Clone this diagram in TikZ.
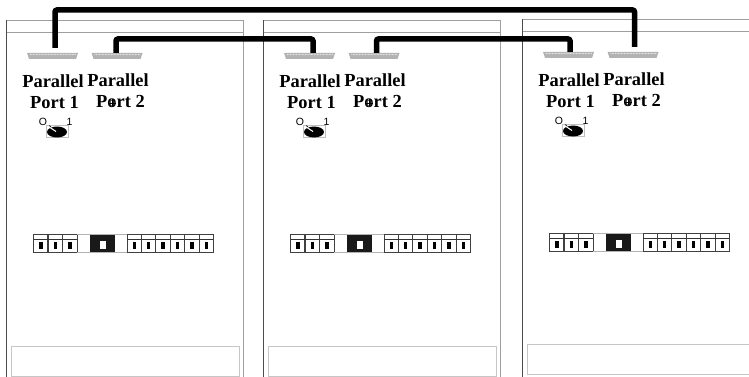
\documentclass[tikz,border=0pt]{standalone}
\usepackage{fontspec}
\setmainfont{Liberation Serif}
\newfontfamily\labelfont{Liberation Sans}
\usetikzlibrary{arrows.meta,positioning,calc}
\tikzset{
  panelline/.style={gray!75,line width=.8pt},
  slotbox/.style={gray!45,line width=.8pt},
  cable/.style={black,line width=5.5pt,rounded corners=2pt},
  portplug/.style={rectangle,minimum width=51pt,minimum height=6pt,inner sep=0pt,outer sep=0pt},
  portname/.style={font=\bfseries\fontsize{18.4}{21}\selectfont,align=center,inner sep=0pt},
  dialnum/.style={font=\labelfont\fontsize{10.5}{10.5}\selectfont,inner sep=0pt},
  dipcell/.style={draw=black!75,line width=1pt,fill=white},
}
\begin{document}
\begin{tikzpicture}[x=1pt,y=-1pt]
  \useasboundingbox (0,0) rectangle (749,377);
  % panels: number / left edge / right edge / shift in x / shift in y
  \foreach \n/\lft/\rgt/\dx/\dy in {1/6.5/243.5/0/0,2/263.5/500.5/257/0,3/522.5/749/516/-1}{
    \begin{scope}[shift={(\dx,\dy)}]
      \draw[panelline,black!70] (\lft-\dx,377-\dy)--(\lft-\dx,20);
      \draw[panelline] (\lft-\dx,32)--(\rgt-\dx,32);
      \draw[panelline] (\lft-\dx,20)--(\rgt-\dx,20);
      \ifnum\n<3
        \draw[panelline] (\rgt-\dx,20)--(\rgt-\dx,377);
        \draw[slotbox] (11,346) rectangle (239,376);
      \else
        \draw[slotbox] (234,345.5)--(11,345.5)--(11,375.5)--(234,375.5);
      \fi
      % ports
      \node[portplug] (plugA\n) at (52.5,56) {};
      \node[portplug] (plugB\n) at (117,56) {};
      \foreach \p in {plugA\n,plugB\n}{
        \fill[gray!60] (\p.north west)--(\p.north east)--([xshift=-2pt]\p.south east)--([xshift=2pt]\p.south west)--cycle;
        \foreach \t in {3,4.5,...,48}{
          \draw[white,line width=.35pt] ([xshift=\t pt,yshift=-1pt]\p.north west)--([xshift=\t pt+.8pt,yshift=1pt]\p.west);
        }
      }
      \node[portname] (nameA\n) at (53,91.5) {Parallel\\[-.5pt]\hspace*{3pt}Port 1};
      \node[portname] (nameB\n) at (118,90.5) {Parallel\\[-.5pt]\hspace*{5pt}Port 2};
      \draw[black!70,line width=.5pt] (112,103) circle (2.6pt);
      \draw[black,line width=.5pt] (108.5,103)--(115.5,103) (112,99.5)--(112,106.5);
      % dial
      \node[dialnum] (zero\n) at (43,122) {O};
      \node[dialnum] (one\n) at (69.5,122) {1};
      \draw[gray!50,line width=.5pt] (46,125.5) rectangle (68,137);
      \fill[black] (57,132) ellipse (10pt and 5.5pt);
      \draw[white,line width=1pt] (50,127.5)--(56,131.5);
      \draw[black,line width=.6pt] (49,125.5)--(51,127);
      % switch row
      \foreach \c in {0,1,2,6,7,8,9,10,11}{
        \pgfmathsetmacro{\cx}{\c<3 ? 33.5+14.6*\c : 127+14.4*(\c-6)}
        \draw[dipcell] (\cx,234.5) rectangle ++(14.4,17.5);
        \draw[black!80,line width=.6pt] (\cx,239)--++(14.4,0);
        \fill[black] (\cx+5.5,241.5) rectangle ++(3.5,7.5);
      }
      \draw[gray!60,line width=.6pt] (77,234.5)--(127,234.5) (77,252)--(127,252);
      \fill[black!90] (90,234.5) rectangle (114.5,252);
      \fill[white] (99.5,241) rectangle (105.5,249);
    \end{scope}
  }
  % cables
  \draw[cable] ([xshift=2.5pt,yshift=5pt]plugA1.north) -- ++(0,-38) -| ([xshift=1.5pt,yshift=5pt]plugB3.north);
  \draw[cable] ([xshift=-1pt]plugB1.north) -- ++(0,-14) -| ([xshift=3.5pt]plugA2.north);
  \draw[cable] ([xshift=2.5pt]plugB2.north) -- ++(0,-14) -| ([xshift=1.5pt]plugA3.north);
\end{tikzpicture}
\end{document}
